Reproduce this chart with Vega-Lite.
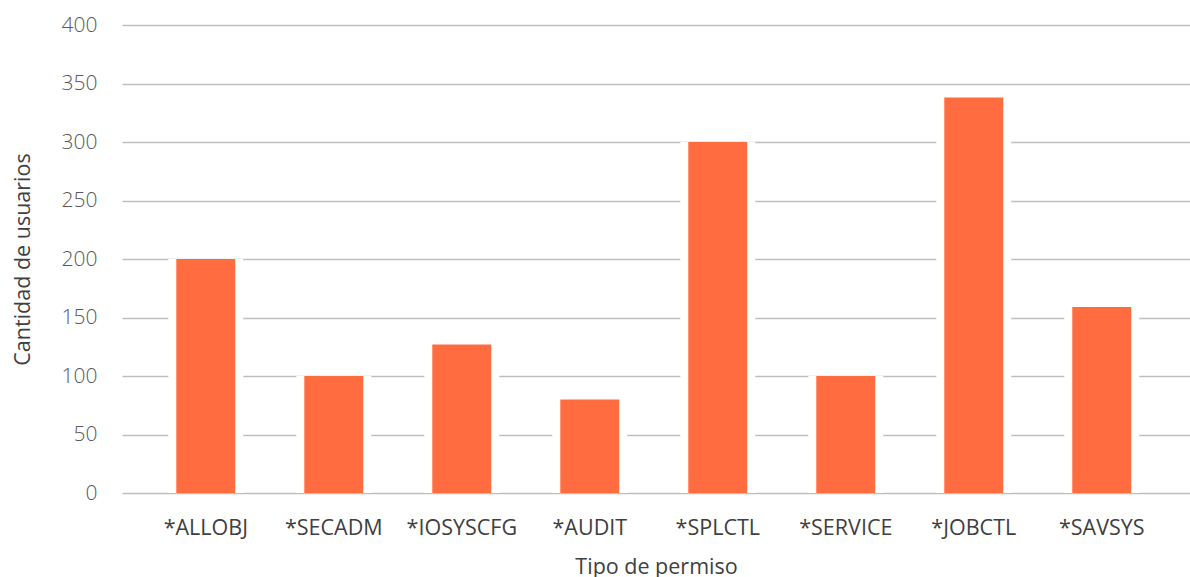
{
  "$schema": "https://vega.github.io/schema/vega-lite/v6.json",
  "autosize": {"type": "none"},
  "padding": {"left": 122, "top": 25, "right": 0, "bottom": 84},
  "width": 1068,
  "height": 468,
  "background": "white",
  "config": {
    "view": {"stroke": null},
    "font": "Open Sans"
  },
  "data": {
    "values": [
      {"permiso": "*ALLOBJ", "usuarios": 200},
      {"permiso": "*SECADM", "usuarios": 100},
      {"permiso": "*IOSYSCFG", "usuarios": 127},
      {"permiso": "*AUDIT", "usuarios": 80},
      {"permiso": "*SPLCTL", "usuarios": 300},
      {"permiso": "*SERVICE", "usuarios": 100},
      {"permiso": "*JOBCTL", "usuarios": 338},
      {"permiso": "*SAVSYS", "usuarios": 159}
    ]
  },
  "encoding": {
    "x": {
      "field": "permiso",
      "type": "nominal",
      "sort": null,
      "scale": {"paddingInner": 0, "paddingOuter": 0.172, "align": 0.45},
      "axis": {
        "title": "Tipo de permiso",
        "titleFont": "Open Sans",
        "titleFontSize": 21.5,
        "titleFontWeight": "normal",
        "titleColor": "#404040",
        "titlePadding": 18,
        "labelAngle": 0,
        "labelFont": "Open Sans",
        "labelFontSize": 21.5,
        "labelColor": "#404040",
        "labelPadding": 24,
        "ticks": false,
        "domain": false,
        "grid": false
      }
    }
  },
  "layer": [
    {
      "mark": {"type": "bar", "color": "white", "width": {"band": 0.586}},
      "encoding": {
        "y": {
          "field": "usuarios",
          "type": "quantitative",
          "scale": {"domain": [0, 400]},
          "axis": {
            "title": "Cantidad de usuarios",
            "titleFont": "Open Sans",
            "titleFontSize": 21.5,
            "titleFontWeight": "normal",
            "titleColor": "#404040",
            "titlePadding": 27,
            "values": [0, 50, 100, 150, 200, 250, 300, 350, 400],
            "labelFont": "Open Sans",
            "labelFontSize": 21,
            "labelFontWeight": 300,
            "labelColor": "#595959",
            "labelPadding": 25,
            "ticks": false,
            "domain": false,
            "grid": true,
            "gridColor": "#bfbfbf",
            "gridWidth": 1.3
          }
        }
      }
    },
    {
      "mark": {"type": "rule", "color": "#bfbfbf", "strokeWidth": 1.3},
      "encoding": {"y": {"datum": 0}}
    },
    {
      "mark": {"type": "bar", "color": "#FF6C40", "width": {"band": 0.461}},
      "encoding": {
        "y": {"field": "usuarios", "type": "quantitative"}
      }
    }
  ]
}
